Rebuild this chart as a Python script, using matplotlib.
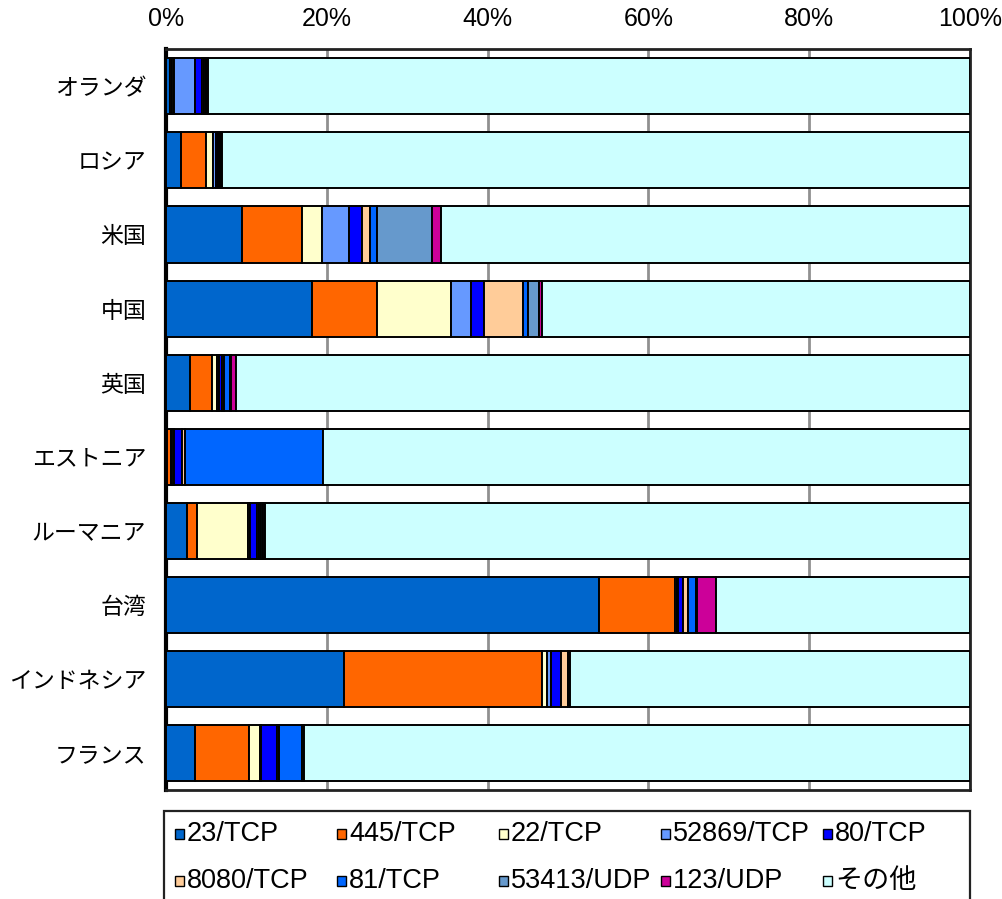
import matplotlib
matplotlib.use("Agg")
import matplotlib.pyplot as plt
from matplotlib import font_manager
from matplotlib.patches import Rectangle
import numpy as np

# ---- data -------------------------------------------------------------
countries = ["オランダ", "ロシア", "米国", "中国", "英国",
             "エストニア", "ルーマニア", "台湾", "インドネシア", "フランス"]

ports = ["23/TCP", "445/TCP", "22/TCP", "52869/TCP", "80/TCP",
         "8080/TCP", "81/TCP", "53413/UDP", "123/UDP", "その他"]

# share (%) of each port per country; "その他" is the remainder
p23    = [0.5, 1.95, 9.5, 18.2, 3.0, 0.2, 2.7, 53.9, 22.1, 3.7]
p445   = [0.3, 3.0, 7.5, 8.0, 2.8, 0.4, 1.25, 9.4, 24.7, 6.6]
p22    = [0.25, 0.95, 2.4, 9.2, 0.55, 0.2, 6.3, 0.2, 0.65, 1.4]
p52869 = [2.65, 0.3, 3.4, 2.6, 0.3, 0.25, 0.2, 0.2, 0.4, 0.2]
p80    = [0.85, 0.35, 1.6, 1.6, 0.3, 1.0, 0.85, 0.6, 1.3, 1.9]
p8080  = [0.2, 0.1, 1.0, 4.8, 0.3, 0.35, 0.3, 0.6, 0.8, 0.3]
p81    = [0.2, 0.1, 0.8, 0.6, 0.75, 17.1, 0.3, 0.95, 0.1, 2.9]
p53413 = [0.2, 0.1, 6.9, 1.4, 0.15, 0.05, 0.2, 0.15, 0.1, 0.15]
p123   = [0.1, 0.1, 1.1, 0.4, 0.55, 0.05, 0.2, 2.45, 0.05, 0.1]

colors = ["#0066CC", "#FF6600", "#FFFFCC", "#6699FF", "#0000FF",
          "#FFCC99", "#0066FF", "#6699CC", "#CC0099", "#CCFFFF"]

# ---- fonts ------------------------------------------------------------
installed = {f.name for f in font_manager.fontManager.ttflist}
latin = "Liberation Sans Narrow" if "Liberation Sans Narrow" in installed else "Liberation Sans"
plt.rcParams["font.family"] = [latin, "Noto Sans CJK JP", "DejaVu Sans"]
jp_family = ["Noto Sans CJK JP", "DejaVu Sans"]

# ---- figure -----------------------------------------------------------
W, H = 1003, 899
fig = plt.figure(figsize=(W / 100, H / 100), dpi=100)
ax = fig.add_axes([165.7 / W, 1 - 790 / H, (970.3 - 165.7) / W, (790 - 49.3) / H])

series = np.array([p23, p445, p22, p52869, p80, p8080, p81, p53413, p123])
other = 100 - series.sum(axis=0)
series = np.vstack([series, other])

y = np.arange(len(countries))
left = np.zeros(len(countries))
for vals, col, lab in zip(series, colors, ports):
    ax.barh(y, vals, left=left, height=0.757, color=col, edgecolor="black",
            linewidth=1.4, label=lab, zorder=3)
    left += vals

ax.set_xlim(0, 100)
ax.set_ylim(len(countries) - 0.5, -0.5)
ax.set_yticks(y)
ax.set_yticklabels(countries, family=jp_family, fontsize=16.5)
ax.set_xticks(np.arange(0, 101, 20))
ax.set_xticklabels([f"{v}%" for v in range(0, 101, 20)], fontsize=18)
ax.xaxis.tick_top()
ax.tick_params(axis="x", length=0, pad=13)
ax.tick_params(axis="y", length=0, pad=14)
ax.grid(axis="x", color="#909090", linewidth=2, zorder=0)
ax.set_axisbelow(True)
for side, sp in ax.spines.items():
    sp.set_color("#222222")
    sp.set_linewidth(2)
ax.spines["left"].set_linewidth(3)
ax.spines["left"].set_color("black")

# ---- legend box -------------------------------------------------------
def fx(px):
    return px / W

def fy(py):
    return 1 - py / H

fig.patches.append(Rectangle((fx(164), fy(910)), fx(970) - fx(164), fy(810.7) - fy(910),
                             transform=fig.transFigure, facecolor="white",
                             edgecolor="#222222", linewidth=1.6, zorder=1))
for i, (lab, col) in enumerate(zip(ports, colors)):
    r, c = divmod(i, 5)
    x0 = 175 + c * 162
    yc = 834 + r * 47
    fig.patches.append(Rectangle((fx(x0), fy(yc + 5)), fx(9), 10 / H,
                                 transform=fig.transFigure, facecolor=col,
                                 edgecolor="black", linewidth=1.0, zorder=2))
    fig.text(fx(x0 + 12), fy(yc), lab, fontsize=19.5, va="center", ha="left", zorder=3)

fig.savefig("out.png", dpi=100)
